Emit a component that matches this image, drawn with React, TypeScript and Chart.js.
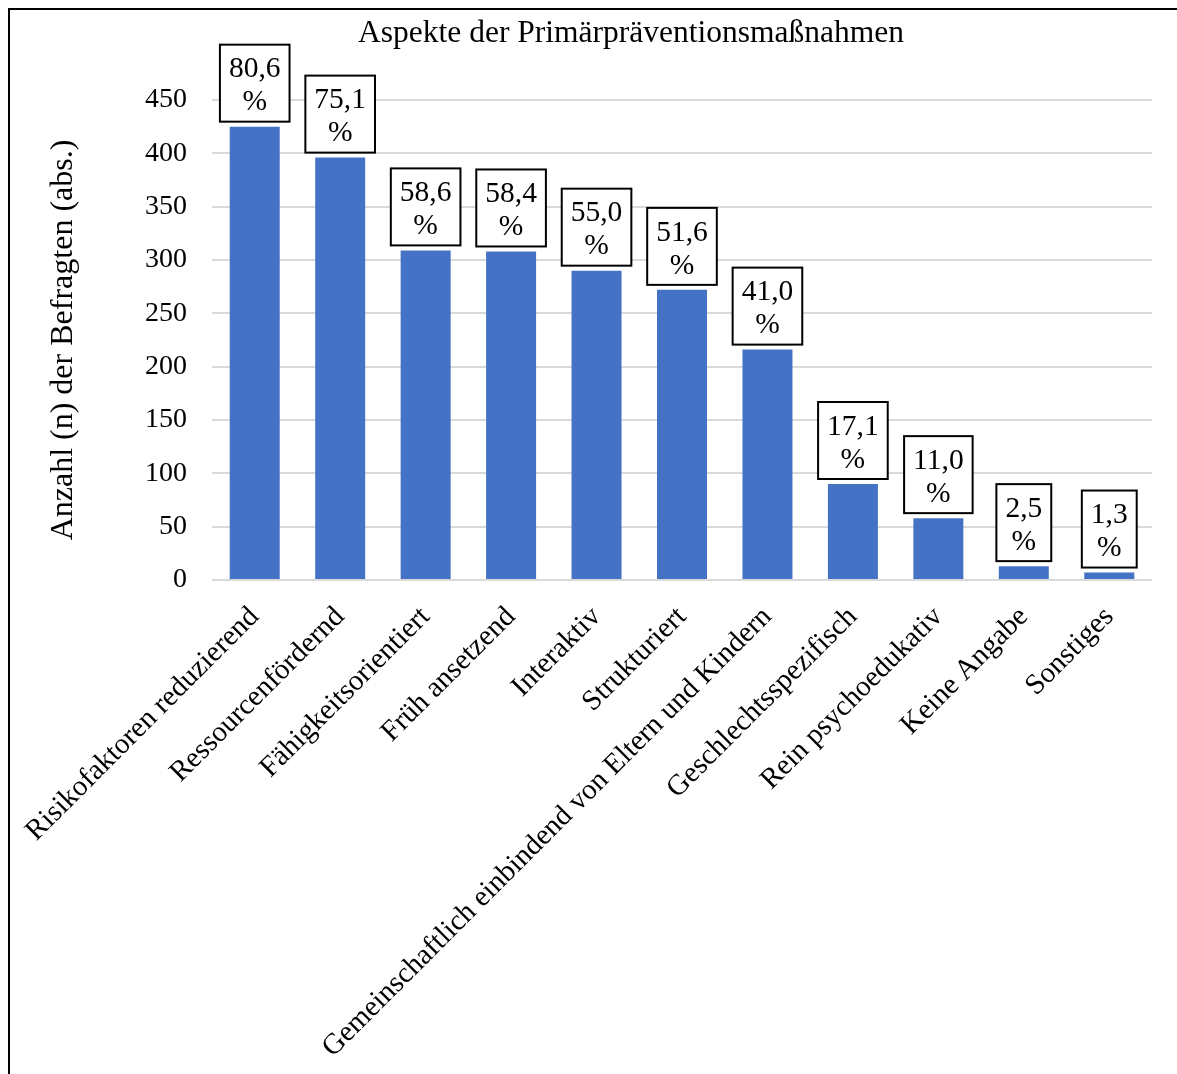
import React, { useEffect, useRef } from "react";
import { Chart, registerables } from "chart.js";

Chart.register(...registerables);

const categories = [
  "Risikofaktoren reduzierend",
  "Ressourcenfördernd",
  "Fähigkeitsorientiert",
  "Früh ansetzend",
  "Interaktiv",
  "Strukturiert",
  "Gemeinschaftlich einbindend von Eltern und Kindern",
  "Geschlechtsspezifisch",
  "Rein psychoedukativ",
  "Keine Angabe",
  "Sonstiges",
];
const counts = [425, 396, 309, 308, 290, 272, 216, 90, 58, 13, 7];
const percents = [80.6, 75.1, 58.6, 58.4, 55.0, 51.6, 41.0, 17.1, 11.0, 2.5, 1.3];
const yTicks = [0, 50, 100, 150, 200, 250, 300, 350, 400, 450];

const titleText = "Aspekte der Primärpräventionsmaßnahmen";
const yTitle = "Anzahl (n) der Befragten (abs.)";

const FONT = "'Liberation Serif', 'Times New Roman', serif";

const titlePlugin = {
  id: "customTitle",
  afterDraw(chart: any) {
    const ctx = chart.ctx;
    ctx.save();
    ctx.font = `31.5px ${FONT}`;
    ctx.fillStyle = "#000";
    ctx.textAlign = "center";
    ctx.textBaseline = "middle";
    ctx.fillText(titleText, 631, 34);
    ctx.restore();
  },
};

const boxLabelPlugin = {
  id: "boxLabels",
  afterDatasetsDraw(chart: any) {
    const ctx = chart.ctx;
    const meta = chart.getDatasetMeta(0);
    ctx.save();
    ctx.font = `29.5px ${FONT}`;
    meta.data.forEach((bar: any, i: number) => {
      const line1 = percents[i].toFixed(1).replace(".", ",");
      const line2 = "%";
      const w = Math.max(ctx.measureText(line1).width, ctx.measureText(line2).width) + 18;
      const h = 77;
      const bottom = bar.y - 5;
      const top = bottom - h;
      const left = bar.x - w / 2;
      ctx.fillStyle = "#fff";
      ctx.fillRect(left, top, w, h);
      ctx.strokeStyle = "#000";
      ctx.lineWidth = 2;
      ctx.strokeRect(left, top, w, h);
      ctx.fillStyle = "#000";
      ctx.textAlign = "center";
      ctx.textBaseline = "middle";
      ctx.fillText(line1, bar.x, top + 25);
      ctx.fillText(line2, bar.x, top + 58);
    });
    ctx.restore();
  },
};

export default function App() {
  const ref = useRef<HTMLCanvasElement>(null);
  useEffect(() => {
    if (!ref.current) return;
    const chart = new Chart(ref.current, {
      type: "bar",
      data: {
        labels: categories,
        datasets: [
          {
            data: counts,
            backgroundColor: "#4472C4",
            barPercentage: 0.585,
            categoryPercentage: 1,
          },
        ],
      },
      options: {
        responsive: false,
        animation: false,
        devicePixelRatio: 1,
        layout: { padding: { left: 0, top: 100, right: 25, bottom: 0 } },
        plugins: {
          legend: { display: false },
          tooltip: { enabled: false },
          title: { display: false },
        },
        scales: {
          x: {
            grid: { display: false },
            border: { display: false },
            ticks: {
              color: "#000",
              font: { family: FONT, size: 29 },
              minRotation: 45,
              maxRotation: 45,
              autoSkip: false,
              padding: 12,
            },
            afterFit: (scale: any) => {
              scale.height = 494;
            },
          },
          y: {
            min: 0,
            max: 450,
            afterBuildTicks: (scale: any) => {
              scale.ticks = yTicks.map((v) => ({ value: v }));
            },
            grid: { color: "#d9d9d9", lineWidth: 2, drawTicks: false },
            border: { display: false },
            ticks: {
              color: "#000",
              font: { family: FONT, size: 28 },
              padding: 25,
            },
            title: {
              display: true,
              text: yTitle,
              color: "#000",
              font: { family: FONT, size: 32 },
              padding: { top: 44, bottom: 0 },
            },
            afterFit: (scale: any) => {
              scale.width = 212;
            },
          },
        },
      },
      plugins: [titlePlugin, boxLabelPlugin],
    });
    return () => chart.destroy();
  }, []);
  return (
    <div style={{ position: "relative", width: 1177, height: 1074, overflow: "hidden", background: "#fff" }}>
      <style>{"body{margin:0;}"}</style>
      <canvas ref={ref} width={1177} height={1074} style={{ display: "block", position: "absolute", left: 0, top: 0 }} />
      <div
        style={{
          position: "absolute",
          left: 8,
          top: 8,
          width: 1200,
          height: 1100,
          borderLeft: "2px solid #000",
          borderTop: "2px solid #000",
          pointerEvents: "none",
        }}
      />
    </div>
  );
}
